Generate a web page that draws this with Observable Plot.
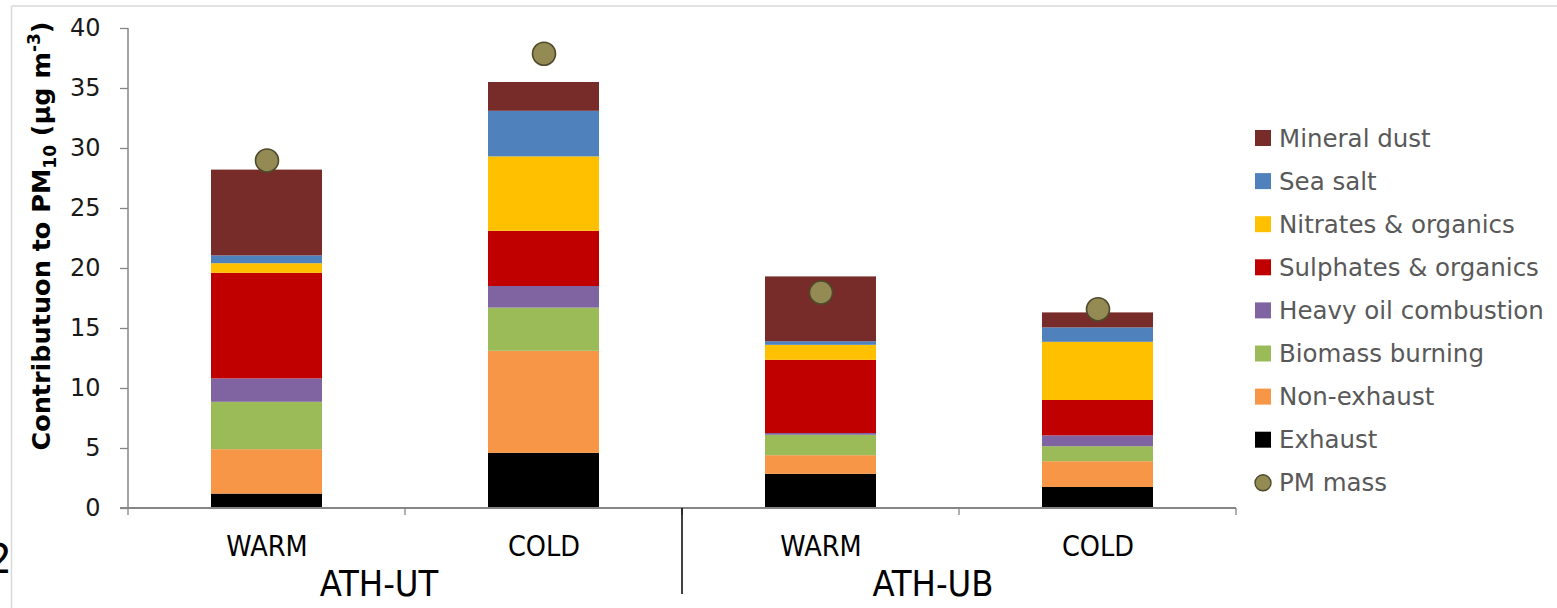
<!DOCTYPE html>
<html>
<head>
<meta charset="utf-8">
<script src="https://cdn.jsdelivr.net/npm/d3@7"></script>
<script src="https://cdn.jsdelivr.net/npm/@observablehq/plot@0.6"></script>
<style>
  html, body { margin: 0; padding: 0; background: #fff; }
  #chart { width: 1557px; height: 608px; overflow: hidden; }
</style>
</head>
<body>
<div id="chart"></div>
<script>
// ---- data ----
const sites = ["ATH-UT", "ATH-UT", "ATH-UB", "ATH-UB"];
const seasons = ["WARM", "COLD", "WARM", "COLD"];
const components = ["Exhaust", "Non-exhaust", "Biomass burning", "Heavy oil combustion",
  "Sulphates & organics", "Nitrates & organics", "Sea salt", "Mineral dust"];
const componentColors = ["#000000", "#F79646", "#9BBB59", "#8064A2",
  "#C00000", "#FFC000", "#4F81BD", "#772C2A"];
// values per bar (ATH-UT WARM, ATH-UT COLD, ATH-UB WARM, ATH-UB COLD)
const exhaust     = [1.2, 4.6, 2.85, 1.75];
const nonExhaust  = [3.7, 8.5, 1.55, 2.15];
const biomass     = [3.95, 3.6, 1.7, 1.25];
const heavyOil    = [1.95, 1.8, 0.15, 0.9];
const sulphates   = [8.8, 4.6, 6.1, 2.95];
const nitrates    = [0.8, 6.2, 1.25, 4.85];
const seaSalt     = [0.65, 3.8, 0.3, 1.2];
const mineralDust = [7.15, 2.4, 5.4, 1.25];
const pmMass      = [29.0, 37.9, 18.0, 16.6];
const yTicks = [0, 5, 10, 15, 20, 25, 30, 35, 40];

// ---- build tables ----
const series = [exhaust, nonExhaust, biomass, heavyOil, sulphates, nitrates, seaSalt, mineralDust];
const keys = sites.map((s, i) => s + " " + seasons[i]);
const rows = [];
components.forEach((c, ci) => keys.forEach((k, i) => rows.push({key: k, component: c, value: series[ci][i]})));
const pm = keys.map((k, i) => ({key: k, value: pmMass[i]}));

const axisGray = "#868686";
const W = 1557, H = 608, ML = 128, MR = 321, MT = 28, MB = 100;

const plot = Plot.plot({
  width: W, height: H,
  marginLeft: ML, marginRight: MR, marginTop: MT, marginBottom: MB,
  style: {background: "transparent", overflow: "visible"},
  x: {domain: keys, paddingInner: 0.6, paddingOuter: 0.3, axis: null},
  y: {domain: [0, 40], axis: null},
  color: {domain: components, range: componentColors},
  marks: [
    Plot.barY(rows, {x: "key", y: "value", fill: "component", order: components, inset: 0}),
    Plot.dot(pm, {x: "key", y: "value", r: 11.5, fill: "#948A54", stroke: "#4E4A2A", strokeWidth: 1.6}),
    Plot.axisY({ticks: yTicks, tickSize: 8, tickPadding: 20, stroke: axisGray, strokeWidth: 1.3,
      fill: "#1a1a1a", fontSize: 24, fontFamily: "DejaVu Sans", label: null}),
    Plot.axisX({tickSize: 0, tickPadding: 27, tickFormat: (d) => d.split(" ")[1],
      fontSize: 28.5, fontFamily: "DejaVu Sans Condensed, DejaVu Sans", fill: "#000", label: null})
  ]
});

document.getElementById("chart").appendChild(plot);

// ---- extra decorations using the plot's scales ----
const svg = d3.select(plot);
const xs = plot.scale("x");
const ys = plot.scale("y");
const step = xs.step, bw = xs.bandwidth;
const y0 = ys.apply(0), yTop = ys.apply(40);
const left = xs.apply(keys[0]) - (step - bw) / 2;
const right = xs.apply(keys[keys.length - 1]) + bw + (step - bw) / 2;

// outer chart border (light)
svg.insert("line", ":first-child").attr("x1", 11.5).attr("x2", 11.5).attr("y1", 6).attr("y2", H)
  .attr("stroke", "#D9D9D9").attr("stroke-width", 1.5);
svg.insert("line", ":first-child").attr("x1", 11.5).attr("x2", W).attr("y1", 6).attr("y2", 6)
  .attr("stroke", "#D9D9D9").attr("stroke-width", 1.5);

// axis lines
svg.append("line").attr("x1", left).attr("x2", left).attr("y1", yTop).attr("y2", y0)
  .attr("stroke", axisGray).attr("stroke-width", 1.5);
svg.append("line").attr("x1", left - 8).attr("x2", right).attr("y1", y0).attr("y2", y0)
  .attr("stroke", axisGray).attr("stroke-width", 1.8);

// category boundary ticks
keys.forEach((k, i) => {
  const bx = xs.apply(k) - (step - bw) / 2;
  svg.append("line").attr("x1", bx).attr("x2", bx).attr("y1", y0).attr("y2", y0 + 7)
    .attr("stroke", axisGray).attr("stroke-width", 1.3);
});
svg.append("line").attr("x1", right).attr("x2", right).attr("y1", y0).attr("y2", y0 + 7)
  .attr("stroke", axisGray).attr("stroke-width", 1.3);

// group separators and labels
const groups = Array.from(new Set(sites));
groups.forEach((g, gi) => {
  const members = keys.filter((k, i) => sites[i] === g);
  const gx0 = xs.apply(members[0]) - (step - bw) / 2;
  const gx1 = xs.apply(members[members.length - 1]) + bw + (step - bw) / 2;
  if (gi > 0) {
    svg.append("line").attr("x1", gx0).attr("x2", gx0).attr("y1", y0).attr("y2", y0 + 86)
      .attr("stroke", "#000").attr("stroke-width", 1.5);
  }
  svg.append("text").attr("x", (gx0 + gx1) / 2 - 26).attr("y", y0 + 88)
    .attr("text-anchor", "middle").attr("font-family", "DejaVu Sans Condensed, DejaVu Sans")
    .attr("font-size", 36).attr("fill", "#000").text(g);
});

// y axis title with sub/superscript
const yt = svg.append("text")
  .attr("transform", `translate(${ML - 78},236) rotate(-90)`)
  .attr("text-anchor", "middle").attr("font-family", "DejaVu Sans").attr("font-weight", "bold")
  .attr("font-size", 25.5).attr("fill", "#000");
yt.append("tspan").text("Contributuon to PM");
yt.append("tspan").attr("font-size", 17).attr("dy", 6).text("10");
yt.append("tspan").attr("dy", -6).text(" (µg m");
yt.append("tspan").attr("font-size", 17).attr("dy", -10).text("-3");
yt.append("tspan").attr("dy", 10).text(")");

// stray line number at left edge (clipped as in the source)
svg.append("text").attr("x", 12).attr("y", 573).attr("text-anchor", "end")
  .attr("font-family", "DejaVu Sans").attr("font-size", 40).attr("fill", "#000").text("2");

// legend
const legendItems = components.slice().reverse().map((c) => ({label: c, color: componentColors[components.indexOf(c)], type: "rect"}));
legendItems.push({label: "PM mass", color: "#948A54", type: "dot"});
const lx = 1255, ly0 = 138, ldy = 43.1;
legendItems.forEach((it, i) => {
  const cy = ly0 + i * ldy;
  if (it.type === "rect") {
    svg.append("rect").attr("x", lx).attr("y", cy - 8).attr("width", 16).attr("height", 16).attr("fill", it.color);
  } else {
    svg.append("circle").attr("cx", lx + 8).attr("cy", cy).attr("r", 8).attr("fill", it.color)
      .attr("stroke", "#4E4A2A").attr("stroke-width", 1.4);
  }
  svg.append("text").attr("x", lx + 24).attr("y", cy).attr("dy", "0.35em").attr("text-anchor", "start")
    .attr("font-family", "DejaVu Sans").attr("font-size", 24.5).attr("fill", "#595959").text(it.label);
});
</script>
</body>
</html>
